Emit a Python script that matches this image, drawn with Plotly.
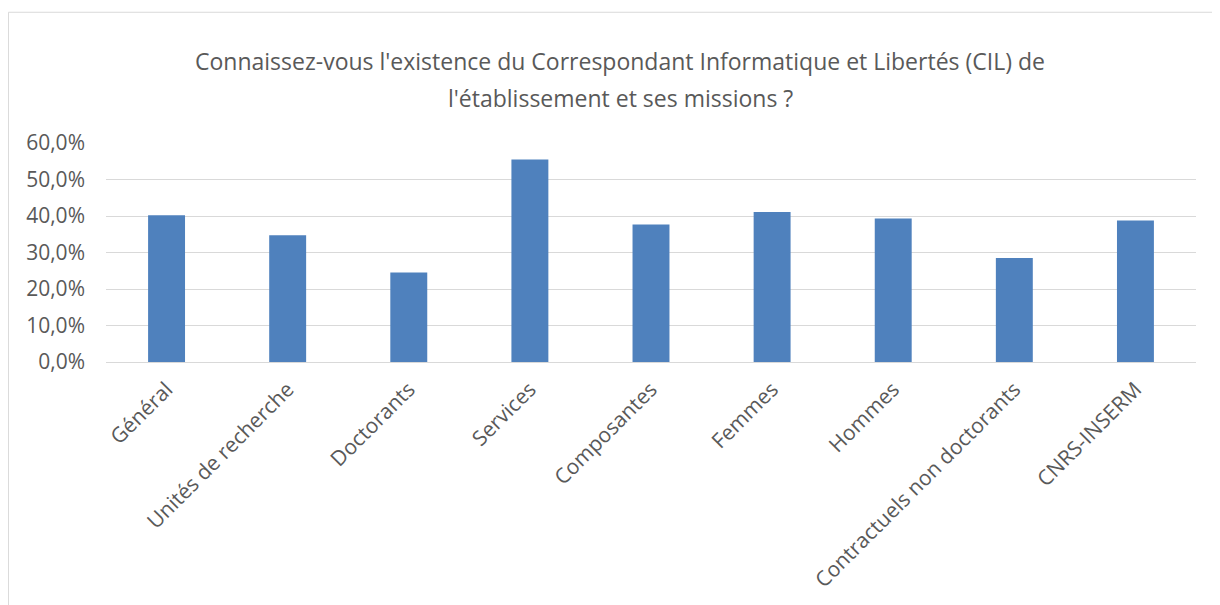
"""Barres CIL - connaissance du correspondant."""

import plotly.graph_objects as go

categories = [
    "Général",
    "Unités de recherche",
    "Doctorants",
    "Services",
    "Composantes",
    "Femmes",
    "Hommes",
    "Contractuels non doctorants",
    "CNRS-INSERM",
]
values = [0.402, 0.347, 0.245, 0.555, 0.377, 0.411, 0.393, 0.285, 0.388]
y_ticks = [0, 0.1, 0.2, 0.3, 0.4, 0.5, 0.6]

grey = "#595959"
font_family = "'Open Sans', sans-serif"

fig = go.Figure()
fig.add_trace(
    go.Bar(
        x=categories,
        y=values,
        marker=dict(color="#4F81BD", line=dict(width=0)),
        width=0.305,
    )
)

# cadre du graphique (style Excel)
fig.add_shape(
    type="rect", xref="paper", yref="paper",
    x0=-0.0895, x1=1.05, y0=-1.5, y1=1.597,
    line=dict(color="#D9D9D9", width=1), layer="below",
)

title_lines = [
    "Connaissez-vous l'existence du Correspondant Informatique et Libertés (CIL) de",
    "l'établissement et ses missions ?",
]
for line, ypos in zip(title_lines, [1.3756, 1.2036]):
    fig.add_annotation(
        text=line,
        xref="paper", yref="paper", x=0.4716, y=ypos,
        xanchor="center", yanchor="middle", showarrow=False,
        font=dict(size=23, color=grey, family=font_family),
    )

fig.update_layout(
    width=1212,
    height=597,
    margin=dict(l=98, r=24, t=135, b=241),
    paper_bgcolor="white",
    plot_bgcolor="white",
    separators=", ",
    showlegend=False,
    font=dict(family=font_family, color=grey, size=20),
)
fig.update_xaxes(
    tickangle=-45,
    showgrid=False,
    showline=False,
    ticks="",
    ticklabelstandoff=10,
    tickfont=dict(size=21, color=grey),
)
fig.update_yaxes(
    range=[0, 0.6],
    tickvals=y_ticks,
    tickformat=".1%",
    showgrid=True,
    gridcolor="#D9D9D9",
    gridwidth=1,
    zeroline=True,
    zerolinecolor="#D9D9D9",
    zerolinewidth=1,
    showline=False,
    ticks="",
    ticklabelstandoff=20,
    tickfont=dict(size=21, color=grey),
)

fig.write_html("out.html")
